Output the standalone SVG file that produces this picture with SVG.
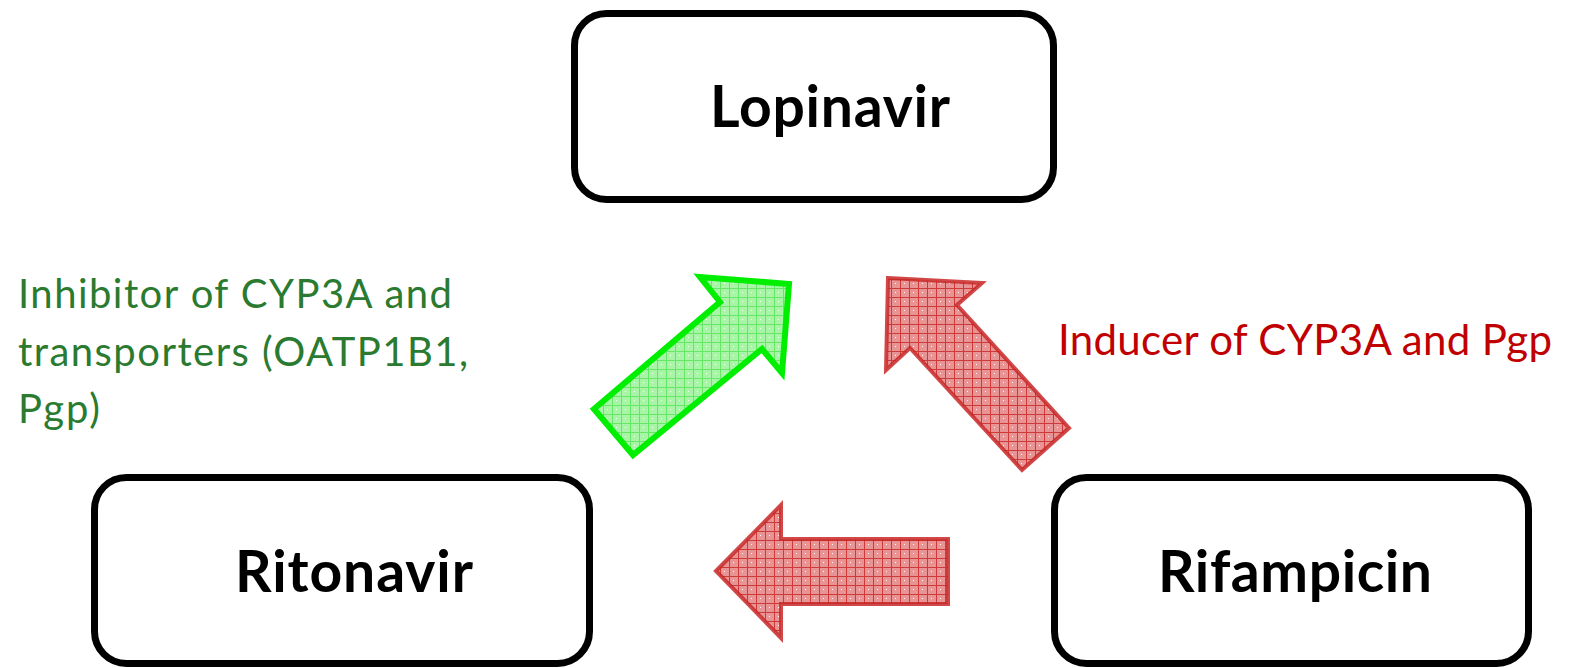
<svg xmlns="http://www.w3.org/2000/svg" width="1569" height="668" viewBox="0 0 1569 668">
<style>
.box{fill:#fff;stroke:#000;stroke-width:7}
.lbl{font-family:Lato,"Liberation Sans",sans-serif;font-weight:bold;font-size:57px;fill:#000}
.note{font-family:Lato,"Liberation Sans",sans-serif;font-size:40px}
.g{fill:#2a7a30}
.r{fill:#c00000}
.ga{fill:url(#gp);stroke:#00ee00;stroke-width:6;stroke-linejoin:miter}
.ra{fill:url(#rp);stroke:#c82828;stroke-width:4;stroke-linejoin:miter;stroke-opacity:0.85}
</style>
<defs>
<pattern id="gp" width="9" height="9" patternUnits="userSpaceOnUse">
<rect width="9" height="9" fill="#a8f5a8"/>
<path d="M0 0.5H9M0.5 0V9" stroke="#66e866" stroke-width="1"/>
<rect x="4" y="4" width="1" height="1" fill="#ffffff"/>
</pattern>
<pattern id="rp" width="9" height="9" patternUnits="userSpaceOnUse">
<rect width="9" height="9" fill="#e89494"/>
<path d="M0 0.5H9M0.5 0V9" stroke="#cc3a3a" stroke-width="1"/>
<rect x="4" y="4" width="1" height="1" fill="#ffffff"/>
</pattern>
</defs>
<g id="connectors">
<path class="ga" d="M594 409 L720 302 L700 277 L789 284 L782 373 L762 349 L633 455 Z"/>
<path class="ra" d="M888 278 L982 283 L957 305 L1069 428 L1022 470 L910 348 L886 370 Z"/>
<path class="ra" d="M716 571 L781 505 L781 539 L948 539 L948 604 L781 604 L781 638 Z"/>
</g>
<g id="lopinavir">
<rect class="box" x="574.5" y="13.5" width="479" height="186" rx="32"/>
<text class="lbl" x="710" y="127" textLength="240">Lopinavir</text>
</g>
<g id="ritonavir">
<rect class="box" x="94.5" y="477.5" width="495" height="186" rx="32"/>
<text class="lbl" x="235" y="592" textLength="238">Ritonavir</text>
</g>
<g id="rifampicin">
<rect class="box" x="1054.5" y="477.5" width="474" height="186" rx="32"/>
<text class="lbl" x="1158" y="592" textLength="274">Rifampicin</text>
</g>
<g id="inhibitor-note">
<text class="note g" x="18" y="308" textLength="434">Inhibitor of CYP3A and</text>
<text class="note g" x="18" y="366" textLength="450">transporters (OATP1B1,</text>
<text class="note g" x="18" y="423" textLength="82">Pgp)</text>
</g>
<g id="inducer-note">
<text class="note r" x="1058" y="355" style="font-size:42px" textLength="494">Inducer of CYP3A and Pgp</text>
</g>
</svg>
